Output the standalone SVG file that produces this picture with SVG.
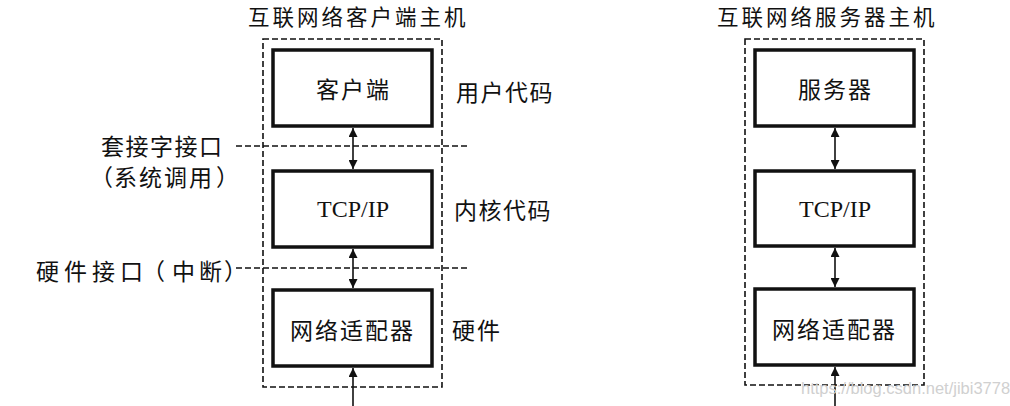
<svg xmlns="http://www.w3.org/2000/svg" width="1010" height="406" viewBox="0 0 1010 406">
<style>
.cjk{font-family:"Noto Sans CJK SC","Noto Sans",sans-serif;font-size:23px;fill:#111;}
.ttl{font-family:"Noto Sans CJK SC","Noto Sans",sans-serif;font-size:21.5px;fill:#111;letter-spacing:3px;}
.ser{font-family:"Liberation Serif","Times New Roman",serif;font-size:24px;fill:#111;}
.box{fill:#fff;stroke:#111;stroke-width:3.5;}
.host{fill:none;stroke:#111;stroke-width:1.6;stroke-dasharray:6 3;}
.div{fill:none;stroke:#111;stroke-width:1.6;stroke-dasharray:6 3;}
.arr{fill:none;stroke:#111;stroke-width:1.6;}
.wm{font-family:"Liberation Sans",sans-serif;font-size:16.5px;fill:#d0d0d0;}
</style>
<defs>
<marker id="ahb" viewBox="0 0 10 10" refX="10" refY="5" markerWidth="11" markerHeight="9" orient="auto-start-reverse" markerUnits="userSpaceOnUse">
<path d="M0,0 L10,5 L0,10 z" fill="#111"/>
</marker>
</defs>
<rect width="1010" height="406" fill="#fff"/>

<g id="client-host">
<rect class="host" x="263" y="39" width="179" height="348"/>
<text class="ttl" x="248" y="24.5">互联网络客户端主机</text>
</g>
<g id="server-host">
<rect class="host" x="745" y="39" width="179" height="346"/>
<text class="ttl" x="717" y="24.5">互联网络服务器主机</text>
</g>

<g id="interfaces">
<line class="div" x1="236" y1="146" x2="467" y2="146"/>
<line class="div" x1="236" y1="268" x2="467" y2="268"/>
<text class="cjk" x="101" y="155" letter-spacing="1.5">套接字接口</text>
<text class="cjk" x="90 114 139 164 189 216" y="186">（系统调用）</text>
<text class="cjk" x="36 64 92 120 142 172 199 224" y="280">硬件接口（中断）</text>
</g>

<g id="client">
<rect class="box" x="273" y="50" width="159" height="76"/>
<text class="cjk" x="316" y="98" letter-spacing="2">客户端</text>
<text class="cjk" x="456" y="101" letter-spacing="1.5">用户代码</text>
</g>
<g id="client-tcpip">
<rect class="box" x="273" y="171" width="159" height="76"/>
<text class="ser" x="353" y="217" text-anchor="middle">TCP/IP</text>
<text class="cjk" x="454" y="219" letter-spacing="1.5">内核代码</text>
</g>
<g id="client-adapter">
<rect class="box" x="273" y="290" width="159" height="76"/>
<text class="cjk" x="290" y="339" letter-spacing="2">网络适配器</text>
<text class="cjk" x="452" y="339" letter-spacing="2">硬件</text>
</g>

<g id="server">
<rect class="box" x="755" y="50" width="159" height="76"/>
<text class="cjk" x="798" y="98" letter-spacing="2">服务器</text>
</g>
<g id="server-tcpip">
<rect class="box" x="755" y="171" width="159" height="75"/>
<text class="ser" x="835" y="217" text-anchor="middle">TCP/IP</text>
</g>
<g id="server-adapter">
<rect class="box" x="755" y="289" width="159" height="76"/>
<text class="cjk" x="772" y="338" letter-spacing="2">网络适配器</text>
</g>

<g id="connectors">
<line class="arr" x1="353" y1="128" x2="353" y2="169" marker-start="url(#ahb)" marker-end="url(#ahb)"/>
<line class="arr" x1="353" y1="249" x2="353" y2="288" marker-start="url(#ahb)" marker-end="url(#ahb)"/>
<line class="arr" x1="353" y1="406" x2="353" y2="368" marker-end="url(#ahb)"/>
<line class="arr" x1="835" y1="128" x2="835" y2="169" marker-start="url(#ahb)" marker-end="url(#ahb)"/>
<line class="arr" x1="835" y1="248" x2="835" y2="287" marker-start="url(#ahb)" marker-end="url(#ahb)"/>
<line class="arr" x1="835" y1="406" x2="835" y2="367" marker-end="url(#ahb)"/>
</g>

<text class="wm" x="801" y="394">https://blog.csdn.net/jibi3778</text>
</svg>
